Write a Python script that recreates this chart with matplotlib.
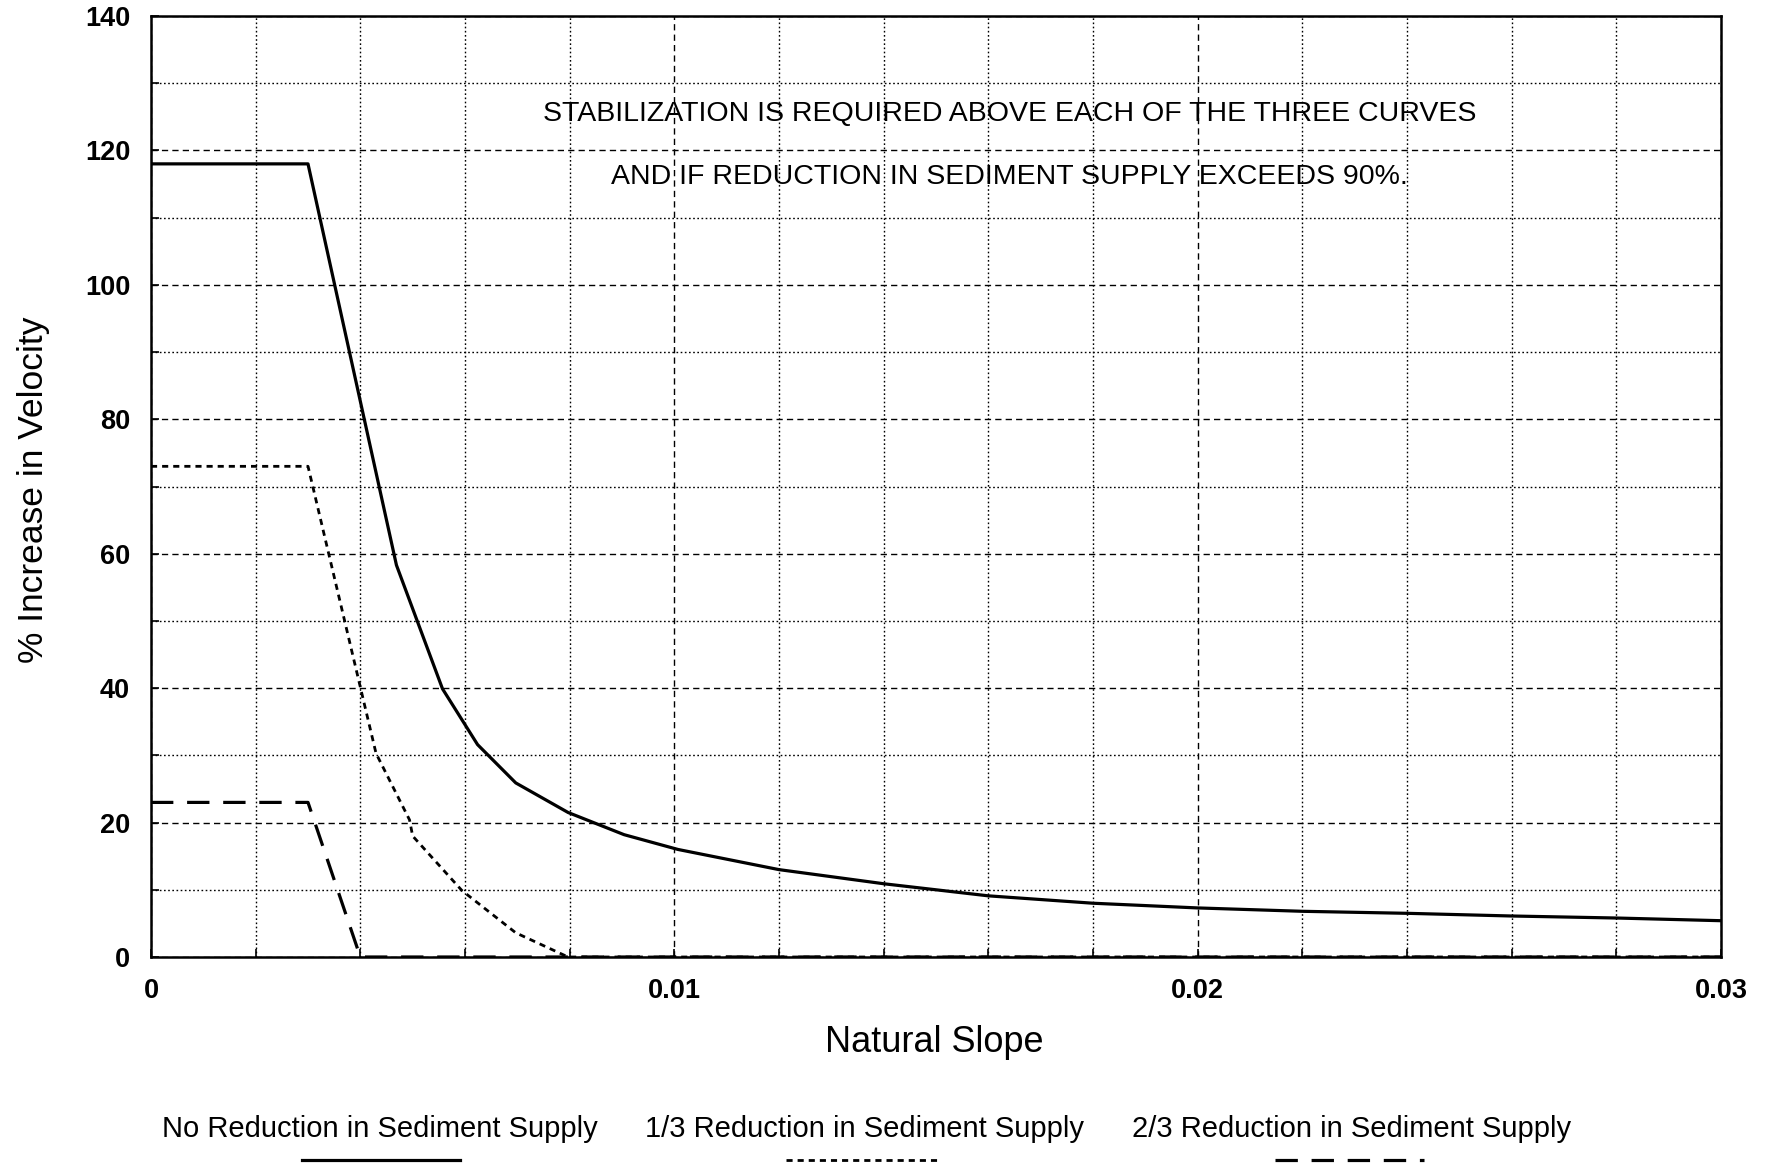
import matplotlib
matplotlib.use("Agg")
import matplotlib.pyplot as plt
from matplotlib.lines import Line2D
from matplotlib.ticker import MultipleLocator, FixedLocator, FixedFormatter

plt.rcParams['font.family'] = ['Liberation Sans', 'DejaVu Sans']

# ---- data ----
slope_none = [0.0, 0.003, 0.00469, 0.00557, 0.00624, 0.00697, 0.00797, 0.00904,
              0.01007, 0.012, 0.014, 0.016, 0.018, 0.020, 0.022, 0.024, 0.026, 0.028, 0.030]
vel_none = [118, 118, 58.3, 39.9, 31.6, 25.9, 21.5, 18.2,
            16.0, 13.0, 10.9, 9.1, 8.0, 7.3, 6.8, 6.5, 6.1, 5.8, 5.4]

slope_third = [0.0, 0.003, 0.0043, 0.00494, 0.0050, 0.00594, 0.00697, 0.00797, 0.030]
vel_third = [73, 73, 30.3, 20.4, 18.0, 9.9, 3.6, 0.0, 0.0]

slope_two_thirds = [0.0, 0.003, 0.004, 0.030]
vel_two_thirds = [23, 23, 0.0, 0.0]

series_labels = ["No Reduction in Sediment Supply",
                 "1/3 Reduction in Sediment Supply",
                 "2/3 Reduction in Sediment Supply"]
x_ticks = [0.0, 0.01, 0.02, 0.03]
x_tick_labels = ["0", "0.01", "0.02", "0.03"]
y_ticks = [0, 20, 40, 60, 80, 100, 120, 140]
note_lines = ["STABILIZATION IS REQUIRED ABOVE EACH OF THE THREE CURVES",
              "AND IF REDUCTION IN SEDIMENT SUPPLY EXCEEDS 90%."]

# ---- styles ----
style_none = dict(color='black', lw=2.3, linestyle='-')
style_third = dict(color='black', lw=2.0, linestyle=(0, (2.2, 1.8)))
style_two = dict(color='black', lw=2.3, linestyle=(0, (7.0, 4.3)))

fig = plt.figure(figsize=(17.69, 11.72), dpi=100)
ax = fig.add_axes([151/1769, 1-957/1172, (1721-151)/1769, (957-16)/1172])

ax.plot(slope_none, vel_none, zorder=4, **style_none)
ax.plot(slope_third, vel_third, zorder=4, **style_third)
ax.plot(slope_two_thirds, vel_two_thirds, zorder=4, **style_two)

ax.set_xlim(0, 0.03)
ax.set_ylim(0, 140)
ax.xaxis.set_major_locator(FixedLocator(x_ticks))
ax.xaxis.set_major_formatter(FixedFormatter(x_tick_labels))
ax.xaxis.set_minor_locator(MultipleLocator(0.002))
ax.yaxis.set_major_locator(FixedLocator(y_ticks))
ax.yaxis.set_minor_locator(MultipleLocator(10))

ax.grid(True, which='major', color='black', lw=1.0, linestyle=(0, (4.5, 3)))
ax.grid(True, which='minor', color='black', lw=1.0, linestyle=(0, (1.2, 1.8)))
ax.set_axisbelow(True)

for sp in ax.spines.values():
    sp.set_linewidth(1.8)
    sp.set_zorder(5)

ax.tick_params(which='both', direction='in', length=6, width=1.2,
               top=False, right=False)
ax.tick_params(axis='x', which='major', pad=15, labelsize=19.5)
ax.tick_params(axis='y', which='major', pad=15, labelsize=19.5)
for lab in ax.get_xticklabels() + ax.get_yticklabels():
    lab.set_fontweight('bold')

# annotation inside plot
ax.text(0.0164, 125.4, note_lines[0], ha='center', va='center', fontsize=20.5)
ax.text(0.0164, 116.0, note_lines[1], ha='center', va='center', fontsize=20.5)

# axis labels
fig.text(33/1769, 1-490/1172, "% Increase in Velocity", rotation=90,
         ha='center', va='center', fontsize=25.5)
fig.text(934/1769, 1-1042/1172, "Natural Slope", ha='center', va='center',
         fontsize=26)

# custom legend: text above line samples
leg_centers = [380, 864, 1352]
leg_samples = [(302, 460), (786, 938), (1275, 1424)]
leg_styles = [style_none, style_third, style_two]
for lbl, cx, (x0, x1), st in zip(series_labels, leg_centers, leg_samples, leg_styles):
    fig.text(cx/1769, 1-1129/1172, lbl, ha='center', va='center', fontsize=21)
    fig.add_artist(Line2D([x0/1769, x1/1769], [1-1160/1172, 1-1160/1172],
                          transform=fig.transFigure, **st))

fig.savefig("out.png", dpi=100)
